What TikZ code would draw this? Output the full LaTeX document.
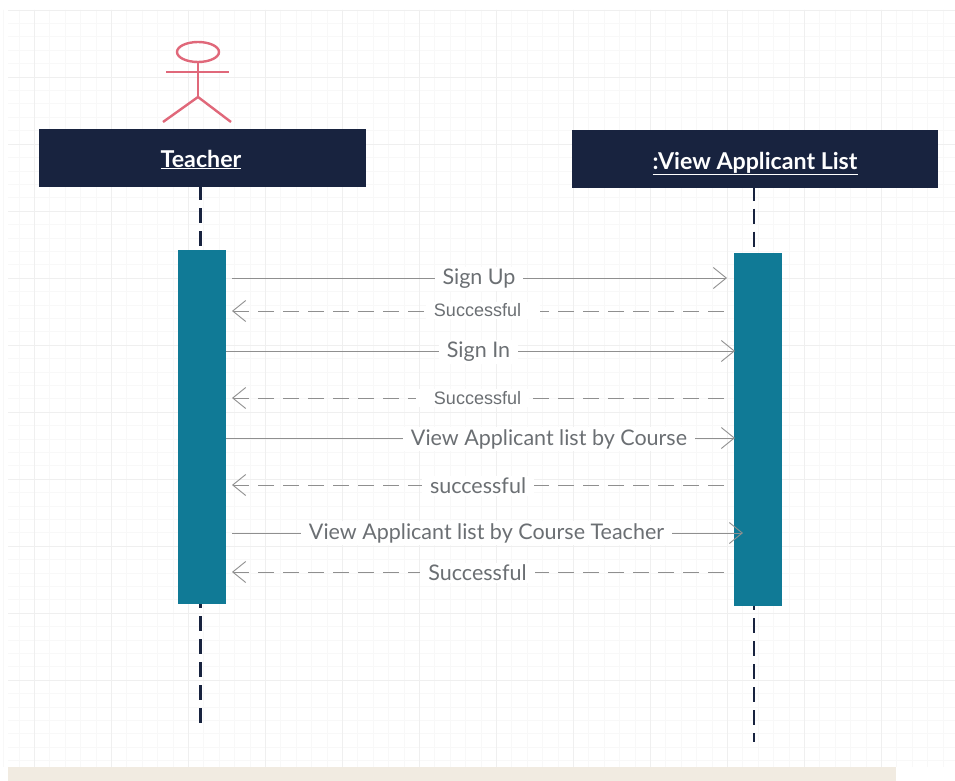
\documentclass[tikz,border=0pt]{standalone}
\usepackage{fontspec}
\setmainfont{Lato}
\newfontfamily\arialf{Liberation Sans}
\usetikzlibrary{arrows.meta}
\definecolor{navy}{HTML}{18233F}
\definecolor{tealbar}{HTML}{107A96}
\definecolor{actorred}{HTML}{E0687A}
\definecolor{msggray}{HTML}{8F8F8F}
\definecolor{msgtext}{HTML}{6B6F73}
\definecolor{beige}{HTML}{F1EBE1}
\definecolor{gridminor}{HTML}{F8F8F8}
\definecolor{gridmajor}{HTML}{EFEFEF}
\tikzset{
  header/.style={fill=navy,draw=none,inner sep=0pt,text=white,font=\fontsize{23.2}{26}\selectfont\bfseries},
  bar/.style={fill=tealbar,draw=none,inner sep=0pt},
  lifeline/.style={draw=navy,line width=2.8pt},
  actor/.style={draw=actorred,line width=2.4pt},
  msg/.style={draw=msggray,line width=0.9pt,-{Straight Barb[length=13pt,width=21pt,line width=0.9pt]}},
  reply/.style={msg,dash pattern=on 16pt off 9pt},
  lab/.style={fill=white,text=msgtext,inner xsep=8pt,inner ysep=2pt,font=\fontsize{21.5}{24}\selectfont},
  arlab/.style={fill=white,text=msgtext,inner xsep=8pt,inner ysep=2pt,font=\fontsize{18}{20}\arialf}
}
\begin{document}
\begin{tikzpicture}[x=1pt,y=-1pt]
\useasboundingbox (0,0) rectangle (955,781);
\fill[white] (0,0) rectangle (955,781);
% grid
\foreach \i in {0,...,61} \draw[gridminor,line width=0.6pt] ({3.4+15.4*\i},10) -- ({3.4+15.4*\i},767);
\foreach \i in {0,...,56} \draw[gridminor,line width=0.6pt] (8,{10+13.4*\i}) -- (955,{10+13.4*\i});
\foreach \i in {0,...,12} \draw[gridmajor,line width=0.7pt] ({34+77*\i},10) -- ({34+77*\i},767);
\foreach \i in {0,...,10} \draw[gridmajor,line width=0.7pt] (8,{10+67*\i}) -- (955,{10+67*\i});
\fill[beige] (8,767) rectangle (896,781);
% actor
\draw[actor] (198,52) ellipse (21pt and 10pt);
\coordinate (neck) at (198,62);
\coordinate (hip) at (198,97);
\coordinate (armL) at (166,72);
\coordinate (armR) at (229,72);
\coordinate (footL) at (163,122);
\coordinate (footR) at (231,122);
\draw[actor] (neck) -- (hip);
\draw[actor] (armL) -- (armR);
\draw[actor] (footL) -- (hip) -- (footR);
% lifelines
\coordinate (tEnd) at (200.5,725);
\coordinate (vEnd) at (754,742);
\node[header,minimum width=327pt,minimum height=58pt] (teacher) at (202.5,158) {\raisebox{-9pt}[0pt][0pt]{\underline{Teacher}}\hspace*{3pt}\mbox{}};
\node[header,minimum width=366pt,minimum height=57pt] (view) at (755,159) {\raisebox{-10pt}[0pt][0pt]{\underline{:View Applicant List}}};
\node[bar,minimum width=48pt,minimum height=354pt] (ta) at (202,427) {};
\node[bar,minimum width=48pt,minimum height=353pt] (va) at (758,429.5) {};
\draw[lifeline,dash pattern=on 15pt off 8pt,dash phase=2pt] (teacher.south -| tEnd) -- (ta.north -| tEnd);
\draw[lifeline,dash pattern=on 15pt off 8pt,dash phase=11pt] (ta.south -| tEnd) -- (tEnd);
\draw[lifeline,dash pattern=on 15pt off 8pt,dash phase=2pt] (view.south -| vEnd) -- (va.north -| vEnd);
\draw[lifeline,dash pattern=on 15pt off 8pt,dash phase=11pt] (va.south -| vEnd) -- (vEnd);
% message end points
\foreach \n/\y/\a/\b in {a/278/232/727,b/311/232/724,c/351/226/735,d/398/232/724,e/438/226/735,f/485/232/724,g/533/232/743,h/572/232/724}{
  \coordinate (\n L) at (\a,\y);
  \coordinate (\n R) at (\b,\y);
}
\draw[msg] (aL) -- (aR);
\node[lab] (la) at (479,279) {Sign Up};
\draw[reply] (bR) -- (bL);
\node[arlab] (lb) at (483,310.5) {Successful\hspace*{11pt}\mbox{}};
\draw[msg] (cL) -- (cR);
\node[lab] (lc) at (478.5,352) {Sign In};
\draw[reply] (dR) -- (dL);
\node[arlab] (ld) at (472.5,398) {\hspace*{10pt}Successful};
\draw[msg] (eL) -- (eR);
\node[lab] (le) at (549,439) {View Applicant list by Course};
\draw[reply] (fR) -- (fL);
\node[lab] (lf) at (478,486) {successful};
\draw[msg] (gL) -- (gR);
\node[lab] (lg) at (486.5,533) {View Applicant list by Course Teacher};
\draw[reply] (hR) -- (hL);
\node[lab] (lh) at (477.5,573) {Successful};
\end{tikzpicture}
\end{document}
